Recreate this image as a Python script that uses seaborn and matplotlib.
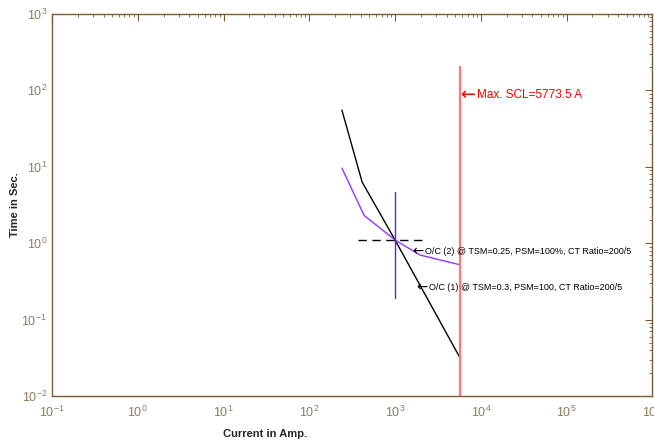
import numpy as np
import pandas as pd
import matplotlib
matplotlib.use("Agg")
import matplotlib.pyplot as plt
import matplotlib.transforms as mtransforms
import seaborn as sns

# relay curves
oc1_current = [240, 413, 1000, 5773.5]
oc1_time = [55, 6.3, 1.1, 0.031]
oc2_current = [240, 436, 1000, 1950, 5773.5]
oc2_time = [9.6, 2.3, 1.1, 0.70, 0.52]

# markers
pickup_current = 1000
pickup_time_range = [0.19, 4.7]
dash_current = [370, 2040]
dash_time = 1.1
max_scl = 5773.5
max_scl_time_range = [0.01, 200]

sns.set_style("white")
plt.rcParams['font.family'] = ['Liberation Sans', 'DejaVu Sans']
axcol = '#7a5c30'
tickcol = '#8c7c5c'

fig = plt.figure(figsize=(6.54, 4.46), dpi=100)
ax = fig.add_axes([0.0795, 0.112, 0.918, 0.857])

df1 = pd.DataFrame({'I': oc1_current, 't': oc1_time})
df2 = pd.DataFrame({'I': oc2_current, 't': oc2_time})
sns.lineplot(data=df1, x='I', y='t', sort=False, color='black', lw=1, ax=ax)
sns.lineplot(data=df2, x='I', y='t', sort=False, color='#9933ff', lw=1, ax=ax)

ax.plot([pickup_current, pickup_current], pickup_time_range, color='#3333ff', lw=1)
ax.plot(dash_current, [dash_time, dash_time], color='black', lw=1, dashes=(6, 4))
ax.plot([max_scl, max_scl], max_scl_time_range, color='#ff7777', lw=1.6)

ax.set_xscale('log')
ax.set_yscale('log')
ax.set_xlim(1e-1, 1e6)
ax.set_ylim(1e-2, 1e3)


def label(x, y, text, size, color):
    ax.text(x, y, '←', color=color, fontsize=size * 1.5, va='center', ha='left',
            family=['DejaVu Sans'])
    tr = mtransforms.offset_copy(ax.transData, fig=fig, x=size * 1.4, y=0, units='points')
    ax.text(x, y, text, color=color, fontsize=size, va='center', ha='left', transform=tr)


label(max_scl, 87, 'Max. SCL=5773.5 A', 8.5, 'red')
label(1600, 0.78, 'O/C (2) @ TSM=0.25, PSM=100%, CT Ratio=200/5', 6.5, 'black')
label(1750, 0.26, 'O/C (1) @ TSM=0.3, PSM=100, CT Ratio=200/5', 6.5, 'black')

ax.set_xlabel('Current in Amp.', fontsize=8, fontweight='bold')
ax.set_ylabel('Time in Sec.', fontsize=8, fontweight='bold')
ax.xaxis.set_label_coords(0.355, -0.085)
ax.yaxis.set_label_coords(-0.053, 0.5)

for s in ax.spines.values():
    s.set_color(axcol)
    s.set_linewidth(1)
ax.tick_params(which='both', direction='in', top=True, right=True, colors=axcol,
               labelcolor=tickcol, labelsize=9)
ax.tick_params(which='major', length=5)
ax.tick_params(which='minor', length=2.5)
ax.xaxis.set_minor_locator(matplotlib.ticker.LogLocator(base=10, subs=np.arange(2, 10), numticks=20))
ax.yaxis.set_minor_locator(matplotlib.ticker.LogLocator(base=10, subs=np.arange(2, 10), numticks=20))
ax.xaxis.set_minor_formatter(matplotlib.ticker.NullFormatter())
ax.yaxis.set_minor_formatter(matplotlib.ticker.NullFormatter())
ax.tick_params(axis='x', pad=6)

fig.savefig("out.png", dpi=100)
